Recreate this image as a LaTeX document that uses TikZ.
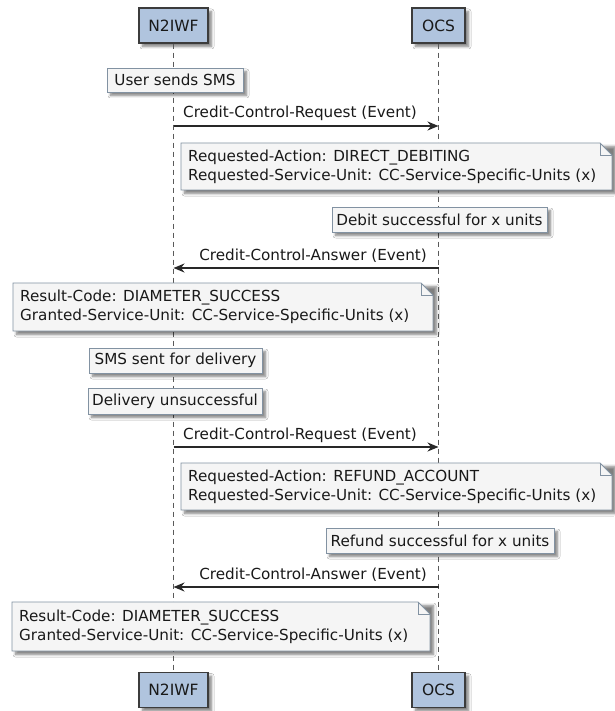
\documentclass[tikz,border=0pt]{standalone}
\usepackage{fontspec}
\setmainfont{DejaVu Sans}
\usetikzlibrary{arrows.meta,shadows.blur,calc}
\definecolor{partfill}{RGB}{176,196,222}
\definecolor{partdraw}{RGB}{60,60,60}
\definecolor{notefill}{RGB}{245,245,245}
\definecolor{notedraw}{RGB}{130,146,162}
\definecolor{txt}{RGB}{25,25,25}
\definecolor{lifec}{RGB}{90,90,90}
\definecolor{msgc}{RGB}{40,40,40}
\tikzset{
  every node/.style={text=txt, inner sep=0pt},
  shad/.style={blur shadow={shadow xshift=3.5pt, shadow yshift=-3.5pt, shadow blur steps=6, shadow opacity=50, shadow blur radius=2.5pt}},
  partbox/.style={draw=partdraw, fill=partfill, line width=1.1pt, shad, font=\fontsize{15.5}{18}\selectfont},
  lifeline/.style={draw=lifec, line width=1.3pt, dash pattern=on 5pt off 4pt},
  infobox/.style={draw=notedraw, fill=notefill, line width=0.9pt, shad, font=\fontsize{15.2}{18}\selectfont},
  notestyle/.style={draw=notedraw, fill=notefill, line width=0.9pt},
  notetext/.style={font=\fontsize{15.2}{19}\selectfont, align=left},
  msgtext/.style={font=\fontsize{15.2}{18}\selectfont},
  msg/.style={draw=msgc, line width=1.4pt, -{Stealth[length=11pt,width=9pt,inset=3.5pt]}},
}
\newcommand\notebox[6]{%
  \path[shad] (#2,#3) rectangle (#4,#5);
  \filldraw[notestyle] (#2,#3) -- (#4-12,#3) -- (#4,#3+12) -- (#4,#5) -- (#2,#5) -- cycle;
  \draw[notestyle, fill=none] (#4-12,#3) -- (#4-12,#3+12) -- (#4,#3+12);
  \node[notetext, anchor=west] (#1) at (#2+7,{(#3+#5)/2}) {#6};
}
\begin{document}
\begin{tikzpicture}[x=1pt,y=-1pt]
\useasboundingbox[fill=white] (0,0) rectangle (614,711);
% participants
\node[partbox, minimum width=69pt, minimum height=35pt] (ntop) at (173.5,25.5) {N2IWF};
\node[partbox, minimum width=53pt, minimum height=35pt] (otop) at (438.5,25.5) {OCS};
\node[partbox, minimum width=69pt, minimum height=35pt] (nbot) at (173.5,690) {N2IWF};
\node[partbox, minimum width=53pt, minimum height=35pt] (obot) at (438.5,690) {OCS};
% lifelines
\draw[lifeline] (ntop.south) -- (nbot.north);
\draw[lifeline] (otop.south) -- (obot.north);
% User sends SMS
\node[infobox, minimum width=136pt, minimum height=24pt] (b1) at (175,80) {User sends SMS};
% message 1
\coordinate (a1s) at (173.5,126);
\coordinate (a1e) at (438.5,126);
\draw[msg] (a1s) -- (a1e);
\node[msgtext, anchor=base west] (l1) at (183,118) {Credit-Control-Request (Event)};
\notebox{n1}{181}{143}{612}{190}{Requested-Action: DIRECT\_DEBITING\\Requested-Service-Unit: CC-Service-Specific-Units (x)}
\node[infobox, minimum width=215pt, minimum height=25pt] (b2) at (439.5,219.5) {Debit successful for x units};
% message 2
\coordinate (a2s) at (438.5,268);
\coordinate (a2e) at (173.5,268);
\draw[msg] (a2s) -- (a2e);
\node[msgtext, anchor=base east] (l2) at (427,260) {Credit-Control-Answer (Event)};
\notebox{n2}{13}{283}{433}{331}{Result-Code: DIAMETER\_SUCCESS\\Granted-Service-Unit: CC-Service-Specific-Units (x)}
\node[infobox, minimum width=173pt, minimum height=25pt] (b3) at (175.5,360.5) {SMS sent for delivery};
\node[infobox, minimum width=174pt, minimum height=26pt] (b4) at (175,401) {Delivery unsuccessful};
% message 3
\coordinate (a3s) at (173.5,447);
\coordinate (a3e) at (438.5,447);
\draw[msg] (a3s) -- (a3e);
\node[msgtext, anchor=base west] (l3) at (183,439) {Credit-Control-Request (Event)};
\notebox{n3}{181}{463}{612}{510}{Requested-Action: REFUND\_ACCOUNT\\Requested-Service-Unit: CC-Service-Specific-Units (x)}
\node[infobox, minimum width=228pt, minimum height=25pt] (b5) at (440,540.5) {Refund successful for x units};
% message 4
\coordinate (a4s) at (438.5,587);
\coordinate (a4e) at (173.5,587);
\draw[msg] (a4s) -- (a4e);
\node[msgtext, anchor=base east] (l4) at (427,579) {Credit-Control-Answer (Event)};
\notebox{n4}{12}{602}{430}{651}{Result-Code: DIAMETER\_SUCCESS\\Granted-Service-Unit: CC-Service-Specific-Units (x)}
\end{tikzpicture}
\end{document}
